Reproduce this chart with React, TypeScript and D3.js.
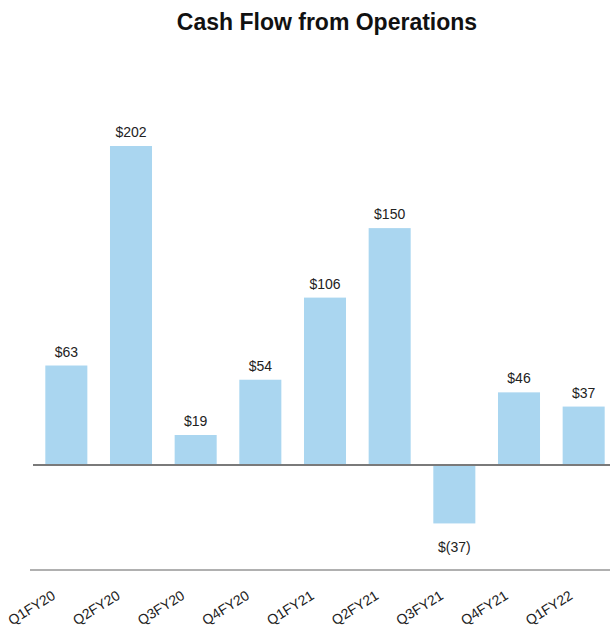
import * as d3 from 'd3'
import { useEffect, useRef } from 'react'

const quarters = ['Q1FY20', 'Q2FY20', 'Q3FY20', 'Q4FY20', 'Q1FY21', 'Q2FY21', 'Q3FY21', 'Q4FY21', 'Q1FY22']
const cashFlow = [63, 202, 19, 54, 106, 150, -37, 46, 37]

const App = () => {
  const ref = useRef<SVGSVGElement>(null)

  useEffect(() => {
    document.body.style.margin = '0'
    const svg = d3.select(ref.current)
    svg.selectAll('*').remove()

    const width = 610,
      height = 628

    const x = d3.scaleBand().domain(quarters).range([34, 616]).paddingInner(0.35).paddingOuter(0.175)
    const y = d3.scaleLinear().domain([0, 202]).range([465, 146])

    const font = 'Liberation Sans, Arial, sans-serif'

    svg
      .append('text')
      .attr('x', 327)
      .attr('y', 30)
      .attr('text-anchor', 'middle')
      .style('font-family', font)
      .style('font-weight', 'bold')
      .style('font-size', '23px')
      .attr('fill', '#111')
      .text('Cash Flow from Operations')

    svg
      .selectAll('.bar')
      .data(cashFlow)
      .enter()
      .append('rect')
      .attr('class', 'bar')
      .attr('x', (d, i) => x(quarters[i]))
      .attr('width', x.bandwidth())
      .attr('y', (d) => y(Math.max(0, d)))
      .attr('height', (d) => Math.abs(y(d) - y(0)))
      .attr('fill', '#aad6f0')

    // zero line
    svg
      .append('line')
      .attr('x1', 33)
      .attr('x2', width)
      .attr('y1', y(0))
      .attr('y2', y(0))
      .attr('stroke', '#7a7a7a')
      .attr('stroke-width', 2)

    // bottom axis line
    svg
      .append('line')
      .attr('x1', 30)
      .attr('x2', width)
      .attr('y1', 570)
      .attr('y2', 570)
      .attr('stroke', '#b0b0b0')
      .attr('stroke-width', 2)

    svg
      .selectAll('.val')
      .data(cashFlow)
      .enter()
      .append('text')
      .attr('class', 'val')
      .attr('x', (d, i) => x(quarters[i])! + x.bandwidth() / 2)
      .attr('y', (d) => (d >= 0 ? y(d) - 9 : y(d) + 29))
      .attr('text-anchor', 'middle')
      .style('font-family', font)
      .style('font-size', '14px')
      .attr('fill', '#222')
      .text((d) => (d >= 0 ? '$' + d : '$(' + Math.abs(d) + ')'))

    svg
      .selectAll('.tick-label')
      .data(quarters)
      .enter()
      .append('text')
      .attr('class', 'tick-label')
      .attr('transform', (d) => 'translate(' + (x(d)! + x.bandwidth() / 2 - 10) + ',' + 598 + ') rotate(-32)')
      .attr('text-anchor', 'end')
      .style('font-family', font)
      .style('font-size', '14px')
      .attr('fill', '#222')
      .text((d) => d)

    svg.attr('width', width).attr('height', height)
  }, [])

  return <svg ref={ref} style={{ display: 'block' }} />
}

export default App
